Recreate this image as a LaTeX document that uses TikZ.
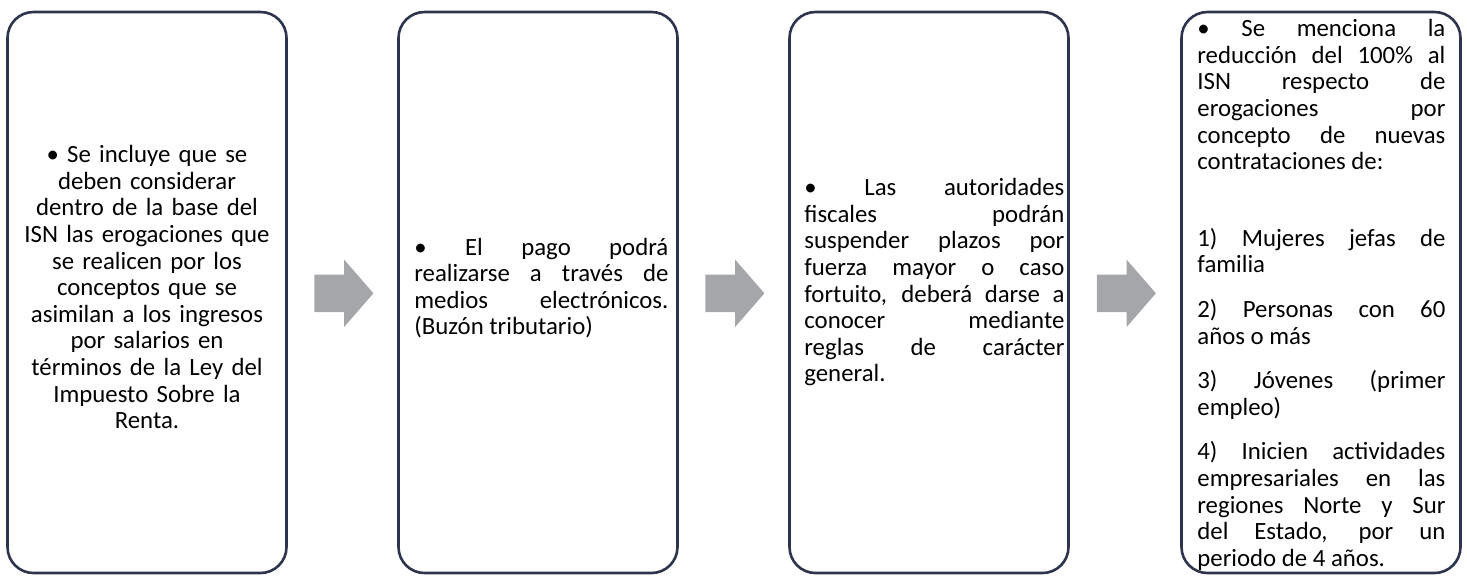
\documentclass[tikz,border=0pt]{standalone}
\usepackage{fontspec}
\setmainfont{Carlito}
\usetikzlibrary{shapes.arrows,calc}
\tolerance=10000 \hbadness=10000 \hfuzz=2pt
\definecolor{borde}{RGB}{44,52,78}
\definecolor{gris}{RGB}{165,166,170}
\tikzset{
	caja/.style={draw=borde, line width=1.3pt, rounded corners=13pt, minimum width=139.5pt, minimum height=280.5pt, inner sep=0pt},
	flecha/.style={single arrow, fill=gris, draw=none, inner xsep=0pt, inner ysep=9.15pt, minimum width=0pt, minimum height=29.5pt, single arrow head extend=7.5pt, single arrow tip angle=98, anchor=tail},
	texto/.style={inner sep=0pt, font=\fontsize{12.4}{13.3}\selectfont},
}
\begin{document}
\begin{tikzpicture}[x=0.5pt, y=-0.5pt]
	\useasboundingbox (0, 0) rectangle (1467, 575);
	% Cajas:
	\node[caja] (caja1) at (147, 292.5){};
	\node[caja] (caja2) at (538, 292.5){};
	\node[caja] (caja3) at (929, 292.5){};
	\node[caja] (caja4) at (1321, 292.5){};
	% Flechas entre cajas:
	\node[flecha] (flecha1) at ($(caja1.east)!0.5!(caja2.west)+(-28.5, 0.8)$){};
	\node[flecha] (flecha2) at ($(caja2.east)!0.5!(caja3.west)+(-28.5, 0.8)$){};
	\node[flecha] (flecha3) at ($(caja3.east)!0.5!(caja4.west)+(-28.5, 0.8)$){};
	% Textos:
	\node[texto, text width=135pt, align=center, anchor=base] (texto1) at (147, 162.7){• Se incluye que se\\ deben considerar\\ dentro de la base del\\ ISN las erogaciones que\\ se realicen por los\\ conceptos que se\\ asimilan a los ingresos\\ por salarios en\\ términos de la Ley del\\ Impuesto Sobre la\\ Renta.};
	\node[texto, text width=127pt, align=justify, anchor=base west] (texto2) at (414, 255){• El pago podrá\linebreak realizarse a través de\linebreak medios electrónicos.\linebreak (Buzón tributario)};
	\node[texto, text width=130pt, align=justify, anchor=base west] (texto3) at (804, 195.7){• Las autoridades\linebreak fiscales podrán\linebreak suspender plazos por\linebreak fuerza mayor o caso\linebreak fortuito, deberá darse a\linebreak conocer mediante\linebreak reglas de carácter\linebreak general.};
	\node[texto, text width=124pt, align=justify, anchor=base west] (texto4) at (1197, 36.7){\setlength{\parskip}{9pt}• Se menciona la\linebreak reducción del 100\% al\linebreak ISN respecto de\linebreak erogaciones por\linebreak concepto de nuevas\linebreak contrataciones de:\par\vspace{16pt}
		1) Mujeres jefas de\linebreak familia\par
		2) Personas con 60\linebreak años o más\par
		3) Jóvenes (primer\linebreak empleo)\par
		4) Inicien actividades\linebreak empresariales en las\linebreak regiones Norte y Sur\linebreak del Estado, por un\linebreak periodo de 4 años.};
\end{tikzpicture}
\end{document}
